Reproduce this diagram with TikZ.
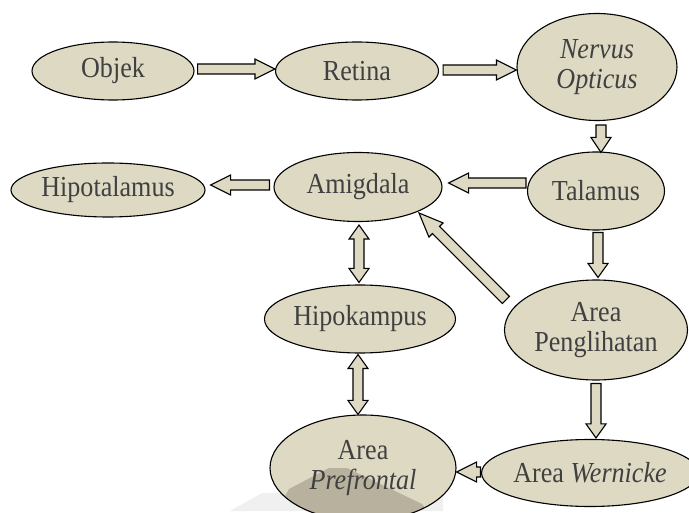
\documentclass[tikz,border=0pt]{standalone}
\usepackage{fontspec}
\setmainfont{Liberation Serif}[FakeStretch=0.9]
\usetikzlibrary{shapes.geometric,calc}
\definecolor{fillc}{HTML}{DDD9C3}
\definecolor{txtc}{HTML}{404040}
\definecolor{wmark}{HTML}{B7B19E}
\tikzset{
  ell/.style={ellipse,draw=black,line width=1.1pt,fill=fillc,inner sep=0pt,
    text=txtc,align=center,font=\fontsize{29}{30}\selectfont},
  blk/.style={draw=black,line width=1.1pt,fill=fillc,line join=miter}
}
% single block arrow: [head length]{from}{to}
\newcommand\barr[3][20]{%
  \draw[blk] let \p1=(#2), \p2=(#3),
    \n1={atan2(\y2-\y1,\x2-\x1)}, \n2={veclen(\x2-\x1,\y2-\y1)} in
    ($(\p1)+({\n1+90}:5)$) --
    ($(\p1)+(\n1:{\n2-#1})+({\n1+90}:5)$) --
    ($(\p1)+(\n1:{\n2-#1})+({\n1+90}:10)$) --
    (\p2) --
    ($(\p1)+(\n1:{\n2-#1})+({\n1-90}:10)$) --
    ($(\p1)+(\n1:{\n2-#1})+({\n1-90}:5)$) --
    ($(\p1)+({\n1-90}:5)$) -- cycle;}
% double block arrow
\newcommand\darr[3][14]{%
  \draw[blk] let \p1=(#2), \p2=(#3),
    \n1={atan2(\y2-\y1,\x2-\x1)}, \n2={veclen(\x2-\x1,\y2-\y1)} in
    (\p1) --
    ($(\p1)+(\n1:#1)+({\n1+90}:10)$) --
    ($(\p1)+(\n1:#1)+({\n1+90}:5)$) --
    ($(\p1)+(\n1:{\n2-#1})+({\n1+90}:5)$) --
    ($(\p1)+(\n1:{\n2-#1})+({\n1+90}:10)$) --
    (\p2) --
    ($(\p1)+(\n1:{\n2-#1})+({\n1-90}:10)$) --
    ($(\p1)+(\n1:{\n2-#1})+({\n1-90}:5)$) --
    ($(\p1)+(\n1:#1)+({\n1-90}:5)$) --
    ($(\p1)+(\n1:#1)+({\n1-90}:10)$) -- cycle;}
\begin{document}
\begin{tikzpicture}[x=1pt,y=1pt]
\useasboundingbox (0,0) rectangle (689,-513);
\clip (0,0) rectangle (689,-513);
\fill[white] (0,0) rectangle (689,-513);
% faint watermark band
\fill[gray!12] (230,-511) -- (262,-493) -- (443,-493) -- (443,-511) -- cycle;

\node[ell,minimum width=162,minimum height=58] (objek) at (113,-71) {Objek};
\node[ell,minimum width=163,minimum height=58] (retina) at (357,-71) {Retina};
\node[ell,minimum width=160,minimum height=107] (nervus) at (597,-67) {\itshape Nervus\\\itshape Opticus};
\node[ell,minimum width=137,minimum height=78] (talamus) at (596,-191) {Talamus};
\node[ell,minimum width=168,minimum height=69] (amigdala) at (358,-187) {Amigdala};
\node[ell,minimum width=194,minimum height=54] (hipotalamus) at (108,-190) {Hipotalamus};
\node[ell,minimum width=191,minimum height=68] (hipokampus) at (360,-319) {Hipokampus};
\node[ell,minimum width=183,minimum height=100] (penglihatan) at (596,-330) {Area\\Penglihatan};
\node[ell,minimum width=186,minimum height=106,
  path picture={\fill[wmark] ($(path picture bounding box.center)+(-74,-21)$) --
     ($(path picture bounding box.center)+(-34,0)$) --
     ($(path picture bounding box.center)+(-16,0)$) --
     ($(path picture bounding box.center)+(59,-36)$) --
     ($(path picture bounding box.center)+(70,-50)$) --
     ($(path picture bounding box.center)+(-90,-50)$) -- cycle;}]
  (prefrontal) at (363,-468) {Area\\\itshape Prefrontal};
\node[ell,minimum width=197,minimum height=67] (wernicke) at (590,-473) {Area \textit{Wernicke}};

\barr{$(objek.east)+(3,2)$}{$(retina.west)+(0,2)$}
\barr{$(retina.east)+(4,1)$}{$(nervus.west)+(0,-3)$}
\barr[15]{$(nervus.south)+(4,-4)$}{$(talamus.north)+(5,-1)$}
\barr{$(talamus.west)+(-1,8)$}{$(amigdala.east)+(6,4)$}
\barr{$(amigdala.west)+(-4,2)$}{$(hipotalamus.east)+(5,5)$}
\barr[14]{$(talamus.south)+(2,-2)$}{$(penglihatan.north)+(2,2)$}
\barr[24]{$(penglihatan.west)+(2,30)$}{$(amigdala.center)+(61,-26)$}
\darr{$(amigdala.south)+(1,-3)$}{$(hipokampus.north)+(-1,2)$}
\darr{$(hipokampus.south)+(-2,-1)$}{$(prefrontal.north)+(-5,0)$}
\barr[14]{$(penglihatan.south)+(0,-3)$}{$(wernicke.north)+(6,1)$}
\barr{$(wernicke.west)+(-0.5,1)$}{$(prefrontal.east)+(0,-4)$}
\end{tikzpicture}
\end{document}
